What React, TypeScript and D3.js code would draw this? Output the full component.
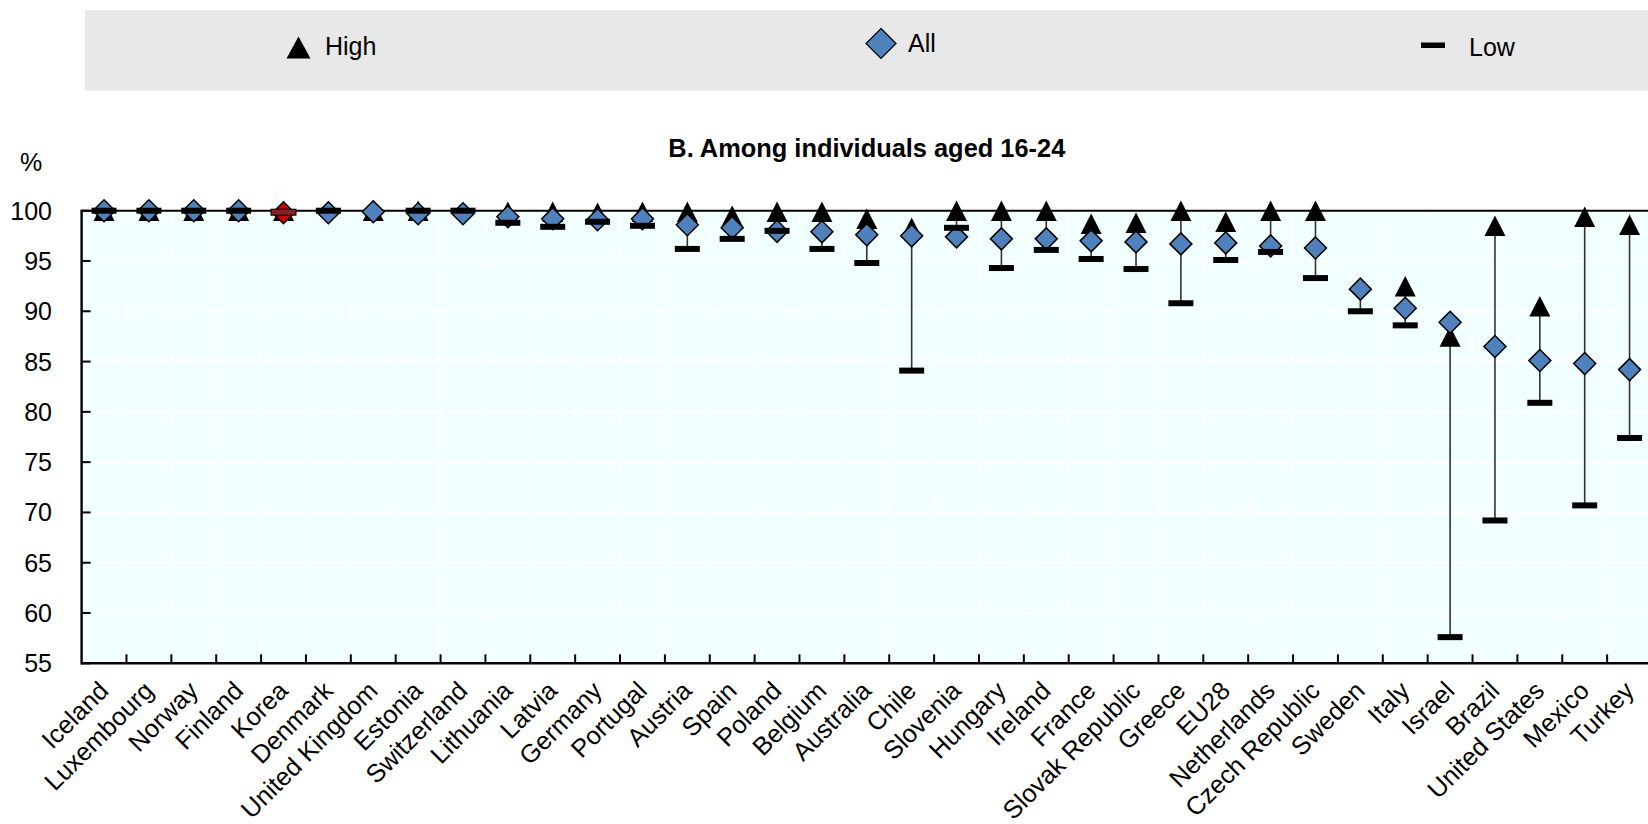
import React from "react";
import * as d3 from "d3";

const countries = [
  "Iceland", "Luxembourg", "Norway", "Finland", "Korea", "Denmark", "United Kingdom",
  "Estonia", "Switzerland", "Lithuania", "Latvia", "Germany", "Portugal", "Austria",
  "Spain", "Poland", "Belgium", "Australia", "Chile", "Slovenia", "Hungary", "Ireland",
  "France", "Slovak Republic", "Greece", "EU28", "Netherlands", "Czech Republic",
  "Sweden", "Italy", "Israel", "Brazil", "United States", "Mexico", "Turkey",
];

const highVals: (number | null)[] = [
  100, 100, 100, 100, 100, null, 100, 100, null, 99.9, 99.9, 99.8, 99.9, 99.9,
  99.5, 99.9, 99.9, 99.2, 98.3, 100, 100, 100, 98.7, 98.8, 100, 98.9, 100, 100,
  null, 92.5, 87.5, 98.5, 90.5, 99.4, 98.6,
];

const allVals: (number | null)[] = [
  100, 100, 100, 100, 99.8, 99.8, 99.9, 99.7, 99.7, 99.4, 99.2, 99.1, 99.2, 98.6,
  98.3, 97.95, 97.9, 97.6, 97.5, 97.4, 97.2, 97.2, 97.0, 96.9, 96.7, 96.8, 96.5, 96.3,
  92.2, 90.3, 88.9, 86.5, 85.1, 84.8, 84.2,
];

const lowVals: (number | null)[] = [
  100, 100, 100, 100, 99.85, 100, null, 100, 100, 98.8, 98.4, 98.9, 98.5, 96.2,
  97.2, 98.0, 96.2, 94.8, 84.1, 98.3, 94.3, 96.1, 95.2, 94.2, 90.8, 95.1, 95.9, 93.3,
  90.0, 88.6, 57.6, 69.2, 80.9, 70.7, 77.4,
];

const yTicks = [55, 60, 65, 70, 75, 80, 85, 90, 95, 100];

const highlight = "Korea";
const titleText = "B. Among individuals aged 16-24";
const legendLabels = ["High", "All", "Low"];

const FONT = "'Liberation Sans', Arial, Helvetica, sans-serif";

export default function App() {
  const W = 1648;
  const H = 824;
  const x0 = 81.6;
  const x1 = 1652;
  const yTop = 210.7;
  const yBot = 663.3;

  const x = d3.scaleBand<string>().domain(countries).range([x0, x1]).padding(0);
  const y = d3.scaleLinear().domain([55, 100]).range([yBot, yTop]);
  const bw = x.bandwidth();

  const tri = (cx: number, cy: number, w: number, h: number) =>
    `M${cx},${cy - h / 2}L${cx + w / 2},${cy + h / 2}L${cx - w / 2},${cy + h / 2}Z`;
  const dia = (cx: number, cy: number, r: number) =>
    `M${cx},${cy - r}L${cx + r},${cy}L${cx},${cy + r}L${cx - r},${cy}Z`;

  const boundaries = countries.map((c) => (x(c) as number) + bw).slice(0, -1);

  return (
    <div style={{ position: "absolute", left: 0, top: 0 }}>
      <svg width={W} height={H} style={{ display: "block" }} fontFamily={FONT}>
        {/* Legend */}
        <rect x={85} y={10} width={W - 85} height={80.5} fill="#E8E8E8" />
        <path d={tri(298.5, 47.5, 24, 22)} fill="#000" />
        <text x={325} y={55} fontSize={25} fill="#000">{legendLabels[0]}</text>
        <path d={dia(881, 43.5, 15)} fill="#4F81BD" stroke="#000" strokeWidth={1.2} />
        <text x={908} y={51.5} fontSize={25} fill="#000">{legendLabels[1]}</text>
        <rect x={1421} y={42.5} width={24} height={5.5} fill="#000" />
        <text x={1469} y={55.5} fontSize={25} fill="#000">{legendLabels[2]}</text>

        {/* Title */}
        <text x={(x0 + x1) / 2} y={156.5} fontSize={25.4} fontWeight="bold" textAnchor="middle" fill="#000">
          {titleText}
        </text>
        <text x={20} y={171} fontSize={25} fill="#000">%</text>

        {/* Plot background */}
        <rect x={x0} y={yTop} width={x1 - x0} height={yBot - yTop} fill="#F2FFFF" />
        {yTicks.slice(1, -1).map((t) => (
          <line key={"gy" + t} x1={x0} x2={x1} y1={y(t)} y2={y(t)} stroke="#fff" strokeWidth={2} />
        ))}
        {boundaries.map((bx, i) => (
          <line key={"gx" + i} x1={bx} x2={bx} y1={yTop} y2={yBot} stroke="#fff" strokeWidth={2} />
        ))}

        {/* Top line at 100 */}
        <line x1={x0} x2={x1} y1={y(100)} y2={y(100)} stroke="#000" strokeWidth={2} />

        {/* Axes */}
        <line x1={x0} x2={x0} y1={yTop - 1} y2={yBot + 1.2} stroke="#000" strokeWidth={2.4} />
        <line x1={x0} x2={x1} y1={yBot} y2={yBot} stroke="#000" strokeWidth={2.4} />
        {yTicks.map((t) => (
          <g key={"yt" + t}>
            <line x1={x0} x2={x0 + 9} y1={y(t)} y2={y(t)} stroke="#000" strokeWidth={2} />
            <text x={52} y={y(t) + 9} fontSize={25} textAnchor="end" fill="#000">{t}</text>
          </g>
        ))}
        {boundaries.map((bx, i) => (
          <line key={"xt" + i} x1={bx} x2={bx} y1={yBot} y2={yBot - 9} stroke="#000" strokeWidth={2} />
        ))}

        {/* Connectors */}
        {countries.map((c, i) => {
          const vals = [highVals[i], allVals[i], lowVals[i]].filter((v) => v != null) as number[];
          const cx = (x(c) as number) + bw / 2;
          const mn = d3.min(vals) as number;
          const mx = d3.max(vals) as number;
          return (
            <line key={"cn" + c} x1={cx} x2={cx} y1={y(mx)} y2={y(mn)} stroke="#333" strokeWidth={1.6} />
          );
        })}

        {/* High triangles */}
        {countries.map((c, i) => {
          const v = highVals[i];
          if (v == null) return null;
          const cx = (x(c) as number) + bw / 2;
          return <path key={"hi" + c} d={tri(cx, y(v), 21, 20.5)} fill="#000" />;
        })}

        {/* All diamonds */}
        {countries.map((c, i) => {
          const v = allVals[i];
          if (v == null) return null;
          const cx = (x(c) as number) + bw / 2;
          return (
            <path
              key={"al" + c}
              d={dia(cx, y(v), 11)}
              fill={c === highlight ? "#CC0000" : "#4F81BD"}
              stroke="#000"
              strokeWidth={1.5}
            />
          );
        })}

        {/* Low bars */}
        {countries.map((c, i) => {
          const v = lowVals[i];
          if (v == null) return null;
          const cx = (x(c) as number) + bw / 2;
          const hl = c === highlight;
          return (
            <rect
              key={"lo" + c}
              x={cx - 12.5}
              y={y(v) - 3}
              width={25}
              height={6}
              fill={hl ? "#7F2525" : "#000"}
              stroke={hl ? "#000" : "none"}
              strokeWidth={hl ? 1 : 0}
            />
          );
        })}

        {/* X labels */}
        {countries.map((c) => {
          const cx = (x(c) as number) + bw / 2;
          const ax = cx + 6;
          const ay = yBot + 29;
          return (
            <text
              key={"xl" + c}
              x={ax}
              y={ay}
              fontSize={25.4}
              textAnchor="end"
              fill="#000"
              transform={`rotate(-45 ${ax} ${ay})`}
            >
              {c}
            </text>
          );
        })}
      </svg>
    </div>
  );
}
